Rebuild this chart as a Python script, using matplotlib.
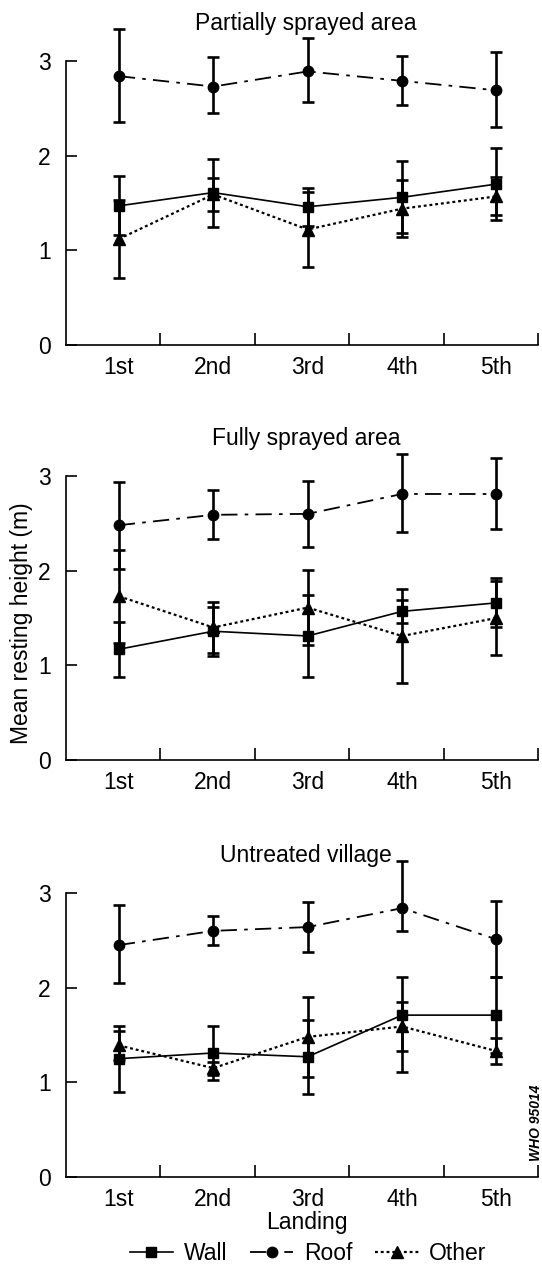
import matplotlib

matplotlib.use("Agg")
import matplotlib.pyplot as plt
import numpy as np

plt.rcParams["font.family"] = ["Liberation Sans", "DejaVu Sans"]

LANDINGS = ["1st", "2nd", "3rd", "4th", "5th"]
PANEL_TITLES = ["Partially sprayed area", "Fully sprayed area", "Untreated village"]
SERIES = ["Wall", "Roof", "Other"]

# partially sprayed area: means, lower and upper error
PART_WALL = [1.47, 1.61, 1.46, 1.56, 1.70]
PART_WALL_LO = [0.31, 0.36, 0.20, 0.38, 0.38]
PART_WALL_HI = [0.31, 0.36, 0.20, 0.38, 0.38]
PART_ROOF = [2.84, 2.73, 2.89, 2.79, 2.69]
PART_ROOF_LO = [0.48, 0.28, 0.32, 0.25, 0.39]
PART_ROOF_HI = [0.50, 0.31, 0.35, 0.26, 0.41]
PART_OTHER = [1.12, 1.59, 1.22, 1.44, 1.57]
PART_OTHER_LO = [0.41, 0.17, 0.40, 0.30, 0.20]
PART_OTHER_HI = [0.41, 0.17, 0.40, 0.30, 0.20]

# fully sprayed area
FULL_WALL = [1.17, 1.36, 1.31, 1.57, 1.66]
FULL_WALL_LO = [0.29, 0.26, 0.43, 0.12, 0.26]
FULL_WALL_HI = [0.29, 0.26, 0.43, 0.12, 0.26]
FULL_ROOF = [2.48, 2.59, 2.60, 2.81, 2.81]
FULL_ROOF_LO = [0.46, 0.26, 0.35, 0.40, 0.37]
FULL_ROOF_HI = [0.46, 0.26, 0.35, 0.42, 0.38]
FULL_OTHER = [1.73, 1.40, 1.61, 1.31, 1.50]
FULL_OTHER_LO = [0.49, 0.27, 0.40, 0.50, 0.39]
FULL_OTHER_HI = [0.49, 0.27, 0.40, 0.50, 0.39]

# untreated village
UNTR_WALL = [1.25, 1.31, 1.27, 1.71, 1.71]
UNTR_WALL_LO = [0.35, 0.29, 0.39, 0.60, 0.40]
UNTR_WALL_HI = [0.35, 0.28, 0.39, 0.40, 0.40]
UNTR_ROOF = [2.45, 2.60, 2.64, 2.84, 2.51]
UNTR_ROOF_LO = [0.40, 0.15, 0.26, 0.24, 0.40]
UNTR_ROOF_HI = [0.42, 0.16, 0.27, 0.50, 0.41]
UNTR_OTHER = [1.39, 1.15, 1.48, 1.59, 1.33]
UNTR_OTHER_LO = [0.15, 0.07, 0.42, 0.26, 0.14]
UNTR_OTHER_HI = [0.15, 0.07, 0.42, 0.26, 0.14]

PANELS = [
    [(PART_WALL, PART_WALL_LO, PART_WALL_HI),
     (PART_ROOF, PART_ROOF_LO, PART_ROOF_HI),
     (PART_OTHER, PART_OTHER_LO, PART_OTHER_HI)],
    [(FULL_WALL, FULL_WALL_LO, FULL_WALL_HI),
     (FULL_ROOF, FULL_ROOF_LO, FULL_ROOF_HI),
     (FULL_OTHER, FULL_OTHER_LO, FULL_OTHER_HI)],
    [(UNTR_WALL, UNTR_WALL_LO, UNTR_WALL_HI),
     (UNTR_ROOF, UNTR_ROOF_LO, UNTR_ROOF_HI),
     (UNTR_OTHER, UNTR_OTHER_LO, UNTR_OTHER_HI)],
]

STYLES = [
    dict(marker="s", ms=7.5, linestyle="-", lw=1.2),
    dict(marker="o", ms=7.5, linestyle=(0, (9, 4, 2, 4)), lw=1.3),
    dict(marker="^", ms=8.5, linestyle=(0, (1.3, 1.3)), lw=1.6),
]

FS = 16.5
W, H = 542, 1265
fig = plt.figure(figsize=(W / 100, H / 100), dpi=100)

# pixel rows of y=0 for each panel, axes span 66..538 px
bottoms = [345, 760, 1177]
x = np.arange(len(LANDINGS)) + 0.56

legend_handles = []
for p, (y0, title) in enumerate(zip(bottoms, PANEL_TITLES)):
    ax = fig.add_axes([66 / W, 1 - y0 / H, 472 / W, 284 / H])
    for (vals, lo, hi), st in zip(PANELS[p], STYLES):
        cont = ax.errorbar(x, vals, yerr=[lo, hi], color="k", ecolor="k",
                           elinewidth=1.9, capsize=4.5, capthick=1.9, **st)
        line, caps, bars = cont.lines
        line.set_clip_on(False)
        for c in caps:
            c.set_clip_on(False)
        for b in bars:
            b.set_clip_on(False)
        if p == 2:
            legend_handles.append(line)

    ax.set_xlim(0, 5)
    ax.set_ylim(0, 3)
    for side in ("top", "right"):
        ax.spines[side].set_visible(False)
    for side in ("left", "bottom"):
        ax.spines[side].set_linewidth(1.2)

    ax.set_yticks([0, 1, 2, 3])
    ax.set_yticklabels(["0", "1", "2", "3"], fontsize=FS)
    ax.tick_params(axis="y", direction="in", length=8, width=1.2, pad=11)

    ax.set_xticks([1, 2, 3, 4, 5])
    ax.set_xticklabels([])
    ax.tick_params(axis="x", which="major", direction="in", length=9, width=1.2)
    ax.set_xticks(x, minor=True)
    ax.set_xticklabels(LANDINGS, minor=True, fontsize=FS)
    ax.tick_params(axis="x", which="minor", length=0, pad=8)

    ax.text(0.508, 1.108, title, transform=ax.transAxes, ha="center",
            va="baseline", fontsize=FS)

fig.text(22 / W, 1 - 623 / H, "Mean resting height (m)", rotation=90,
         ha="center", va="center", fontsize=FS)
fig.text(307 / W, 1 - 1229 / H, "Landing", ha="center", va="baseline",
         fontsize=FS)
fig.text(536 / W, 1 - 1123 / H, "WHO 95014", rotation=90, ha="center",
         va="center", fontsize=10, style="italic", weight="bold")

fig.legend(legend_handles, SERIES, loc="center", ncol=3, frameon=False,
           bbox_to_anchor=(308 / W, 1 - 1254 / H), fontsize=FS,
           handlelength=1.9, handletextpad=0.45, columnspacing=1.0,
           numpoints=1, borderpad=0)

fig.savefig("out.png", dpi=100)
